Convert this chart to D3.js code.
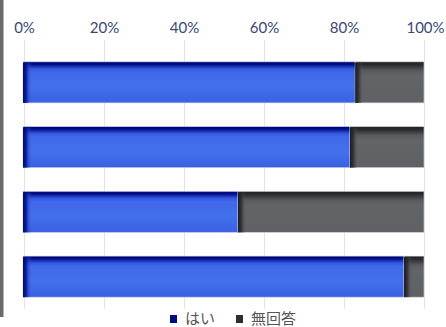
<!DOCTYPE html>
<html>
<head>
<meta charset="utf-8">
<script src="https://cdn.jsdelivr.net/npm/d3@7"></script>
<style>
  html, body { margin: 0; padding: 0; background: #fff; overflow: hidden; }
  svg { display: block; }
</style>
</head>
<body>
<svg id="chart" width="446" height="327"></svg>
<script>
// Rows of the stacked percentage bar chart (top to bottom)
const categories = ["項目1", "項目2", "項目3", "項目4"];
const yesValues = [82.8, 81.5, 53.5, 95.0];        // はい
const noAnswerValues = [17.2, 18.5, 46.5, 5.0];    // 無回答
const tickValues = [0, 20, 40, 60, 80, 100];
const seriesNames = ["はい", "無回答"];

const svg = d3.select("#chart");

const x = d3.scaleLinear().domain([0, 100]).range([24, 424]);
const y = d3.scaleBand().domain(categories).range([50, 309])
  .paddingInner(0.366).paddingOuter(0.183);

// Gradients: dark top edge on each segment, dark left edge as separate strip
const defs = svg.append("defs");
function vGrad(id, stops) {
  const g = defs.append("linearGradient").attr("id", id)
    .attr("x1", 0).attr("y1", 0).attr("x2", 0).attr("y2", 1);
  stops.forEach(([o, c]) => g.append("stop").attr("offset", o).attr("stop-color", c));
}
function hGrad(id, stops) {
  const g = defs.append("linearGradient").attr("id", id)
    .attr("x1", 0).attr("y1", 0).attr("x2", 1).attr("y2", 0);
  stops.forEach(([o, c, a]) => g.append("stop").attr("offset", o)
    .attr("stop-color", c).attr("stop-opacity", a));
}
vGrad("blueFill", [[0, "#000870"], [0.06, "#000c84"], [0.11, "#1630b4"], [0.17, "#3459e0"], [0.25, "#4068ea"], [0.6, "#4470ec"], [1, "#3a60e4"]]);
vGrad("greyFill", [[0, "#222224"], [0.07, "#2a2a2c"], [0.13, "#3e3f42"], [0.22, "#5a5b5f"], [0.35, "#636468"], [1, "#606165"]]);
hGrad("blueEdge", [[0, "#000868", 1], [0.35, "#04128a", 0.85], [0.7, "#2446c8", 0.35], [1, "#3a60e4", 0]]);
hGrad("greyEdge", [[0, "#1c1c1e", 1], [0.4, "#27272a", 0.8], [0.75, "#45464a", 0.35], [1, "#606165", 0]]);

// Left frame strip
svg.append("rect").attr("x", 0).attr("y", 0).attr("width", 3.5).attr("height", 317)
  .attr("fill", "#6b6b6b");

// Vertical gridlines
svg.append("g").selectAll("line").data(tickValues).join("line")
  .attr("x1", d => x(d) + 0.5).attr("x2", d => x(d) + 0.5)
  .attr("y1", 40).attr("y2", 309)
  .attr("stroke", "#dfe4ec").attr("stroke-width", 1);

// Top axis labels
const axis = d3.axisTop(x).tickValues(tickValues).tickFormat(d => d + "%").tickSize(0);
const ag = svg.append("g").attr("transform", "translate(0,33)").call(axis);
ag.select(".domain").remove();
ag.selectAll("text")
  .attr("dy", 0).attr("y", 0)
  .attr("fill", "#3b4775")
  .style("font-family", "Lato, 'Open Sans', sans-serif")
  .style("font-size", "15px");
ag.selectAll(".tick:last-of-type text").attr("dx", 1);

// Stacked bars
const rows = categories.map((c, i) => ({ cat: c, yes: yesValues[i], no: noAnswerValues[i] }));
const bars = svg.append("g").selectAll("g").data(rows).join("g");

bars.append("rect").attr("class", "yes")
  .attr("x", d => x(0) - 1).attr("y", d => y(d.cat))
  .attr("width", d => x(d.yes) - x(0) + 1).attr("height", y.bandwidth())
  .attr("fill", "url(#blueFill)")
  .attr("stroke", "#c9d3f5").attr("stroke-width", 0.6);
bars.append("rect")
  .attr("x", d => x(0) - 1).attr("y", d => y(d.cat) + 1)
  .attr("width", 9).attr("height", y.bandwidth() - 1)
  .attr("fill", "url(#blueEdge)");

bars.append("rect").attr("class", "no")
  .attr("x", d => x(d.yes)).attr("y", d => y(d.cat))
  .attr("width", d => x(d.yes + d.no) - x(d.yes)).attr("height", y.bandwidth())
  .attr("fill", "url(#greyFill)")
  .attr("stroke", "#d6d6d8").attr("stroke-width", 0.6);
bars.append("rect")
  .attr("x", d => x(d.yes)).attr("y", d => y(d.cat) + 1)
  .attr("width", 8).attr("height", y.bandwidth() - 1)
  .attr("fill", "url(#greyEdge)");

// Legend
const legend = svg.append("g").attr("transform", "translate(170,0)");
const legendItems = [
  { name: seriesNames[0], color: "#000c80", dx: 0 },
  { name: seriesNames[1], color: "#2e2e30", dx: 66 }
];
const li = legend.selectAll("g").data(legendItems).join("g")
  .attr("transform", d => `translate(${d.dx},0)`);
li.append("rect").attr("x", 0).attr("y", 315).attr("width", 7).attr("height", 8)
  .attr("fill", d => d.color);
li.append("text").attr("x", 15).attr("y", 324)
  .attr("fill", "#555")
  .style("font-family", "'Noto Sans CJK JP', sans-serif")
  .style("font-size", "15px")
  .text(d => d.name);
</script>
</body>
</html>
